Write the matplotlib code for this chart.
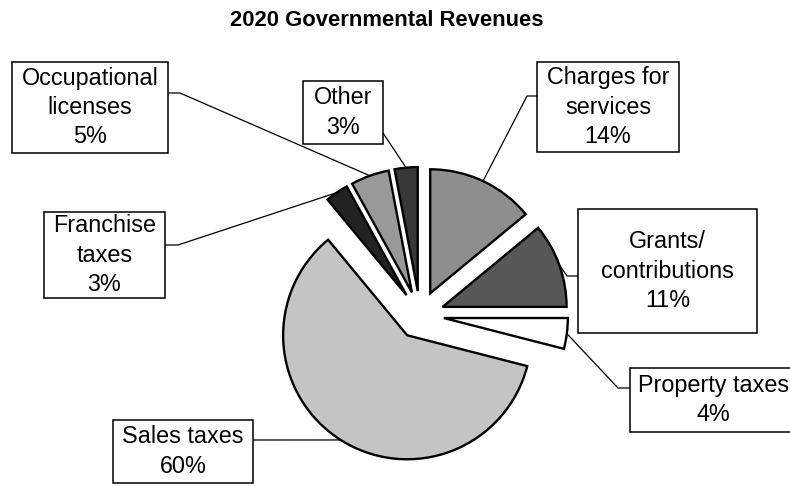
import matplotlib
matplotlib.use("Agg")
import numpy as np
import matplotlib.pyplot as plt
from matplotlib.patches import Rectangle

plt.rcParams['font.family'] = ['Liberation Sans', 'DejaVu Sans']

# Revenue shares, in clockwise order starting at 12 o'clock
title = "2020 Governmental Revenues"
categories = ["Charges for\nservices", "Grants/\ncontributions", "Property taxes",
              "Sales taxes", "Franchise\ntaxes", "Occupational\nlicenses", "Other"]
shares = [14, 11, 4, 60, 3, 5, 3]

# Slice fills (grayscale print palette)
fills = ["#8e8e8e", "#575757", "#ffffff", "#c4c4c4", "#222222", "#999999", "#383838"]

W, H = 790, 486
fig = plt.figure(figsize=(W / 100, H / 100), dpi=100)
ax = fig.add_axes([0, 0, 1, 1])

pie_center = (420, H - 315)
pie_radius = 124
wedges, _ = ax.pie(shares, startangle=90, counterclock=False, colors=fills,
                   explode=[24] * len(shares), center=pie_center,
                   radius=pie_radius, frame=False,
                   wedgeprops=dict(edgecolor="black", linewidth=1.7))
ax.set_xlim(0, W)
ax.set_ylim(0, H)
ax.set_aspect("equal")
ax.axis("off")

# Callout boxes (x0, y0, x1, y1 measured from the top-left) and leader elbows
layout = [
    dict(box=(537, 62, 679, 152), elbows=[(527, 96), (537, 96)]),
    dict(box=(578, 209, 757, 333), elbows=[(567, 276), (578, 276)]),
    dict(box=(630, 368, 797, 432), elbows=[(618, 388), (630, 388)]),
    dict(box=(113, 420, 253, 483), elbows=[(253, 440)]),
    dict(box=(44, 212, 165, 298), elbows=[(178, 245), (165, 245)]),
    dict(box=(12, 62, 168, 153), elbows=[(180, 93), (168, 93)]),
    dict(box=(303, 81, 383, 144), elbows=[(383, 133)]),
]

for w, name, share, lay in zip(wedges, categories, shares, layout):
    mid = np.deg2rad((w.theta1 + w.theta2) / 2)
    cx, cy = w.center
    ax_pt = (cx + w.r * np.cos(mid), cy + w.r * np.sin(mid))
    xs = [ax_pt[0]] + [p[0] for p in lay["elbows"]]
    ys = [ax_pt[1]] + [H - p[1] for p in lay["elbows"]]
    ax.plot(xs, ys, color="black", linewidth=0.9, solid_capstyle="butt")

    x0, y0, x1, y1 = lay["box"]
    ax.add_patch(Rectangle((x0, H - y1), x1 - x0, y1 - y0, facecolor="white",
                           edgecolor="black", linewidth=1.1, zorder=3))
    ax.text((x0 + x1) / 2, H - (y0 + y1) / 2, f"{name}\n{share}%",
            ha="center", va="center", fontsize=16.8, linespacing=1.34,
            color="black", zorder=4)

ax.text(387, H - 21, title, ha="center", va="center", fontsize=15.8,
        fontweight="bold", color="black")

fig.savefig("out.png", dpi=100)
